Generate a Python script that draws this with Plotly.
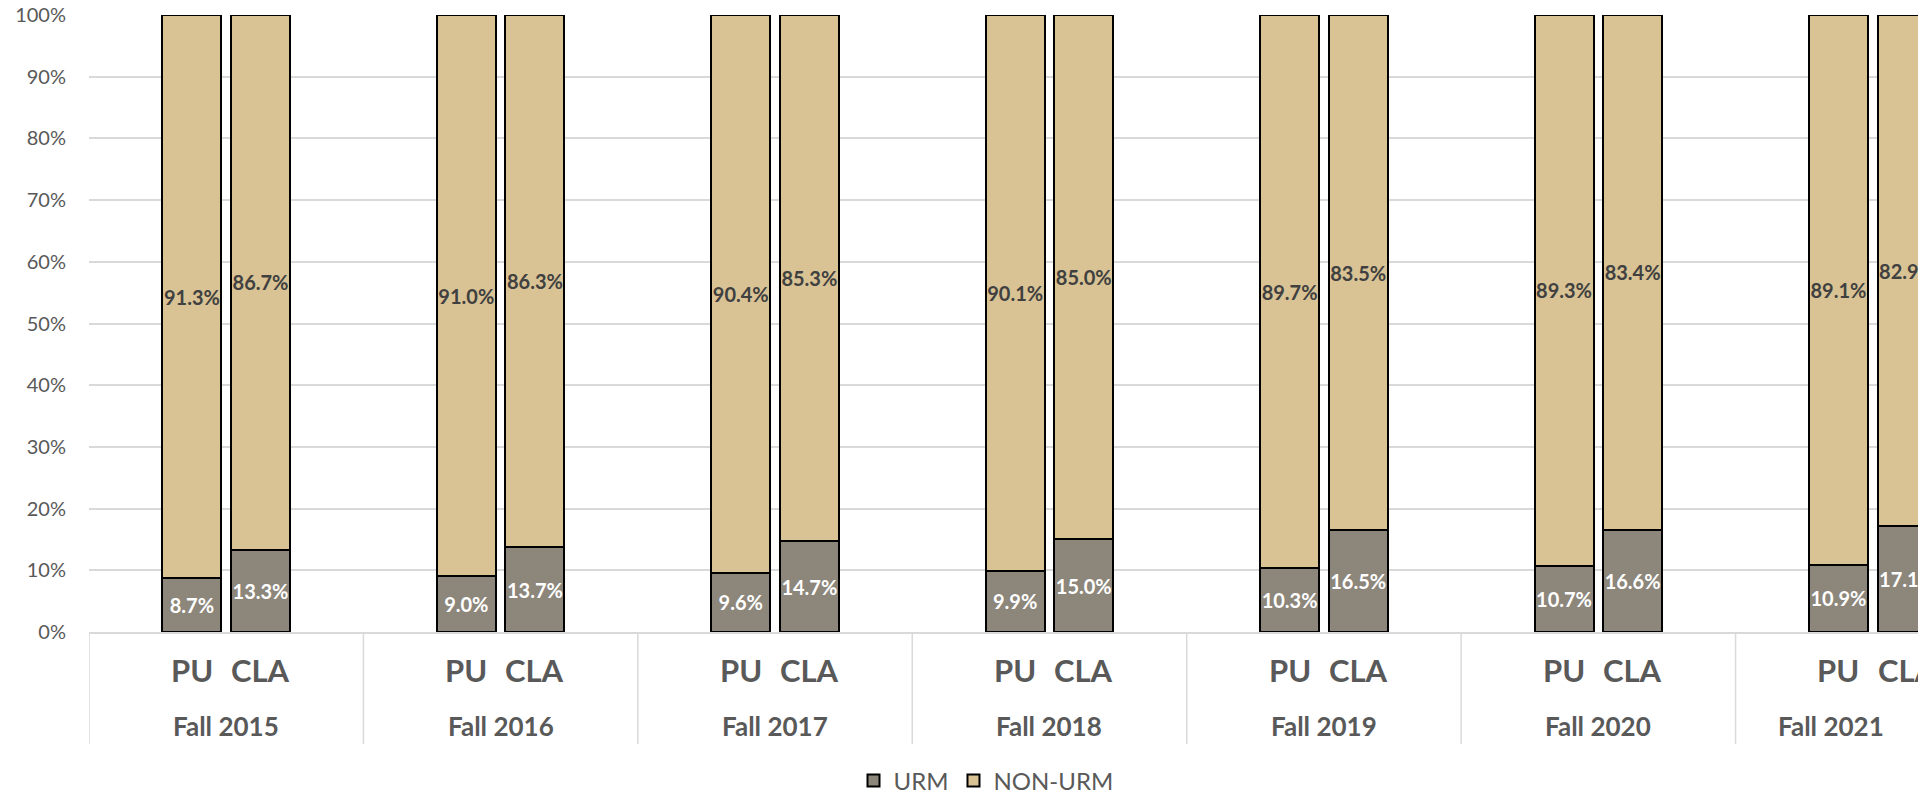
import plotly.graph_objects as go

terms = ["Fall 2015", "Fall 2016", "Fall 2017", "Fall 2018", "Fall 2019", "Fall 2020", "Fall 2021"]
schools = ["PU", "CLA"]

pu_urm = [8.7, 9.0, 9.6, 9.9, 10.3, 10.7, 10.9]
pu_non_urm = [91.3, 91.0, 90.4, 90.1, 89.7, 89.3, 89.1]
cla_urm = [13.3, 13.7, 14.7, 15.0, 16.5, 16.6, 17.1]
cla_non_urm = [86.7, 86.3, 85.3, 85.0, 83.5, 83.4, 82.9]

URM_COLOR = "#8D867B"
NON_URM_COLOR = "#D9C394"
TEXT_GRAY = "#595959"
GRID = "#D9D9D9"
FONT = "Lato"

# the page body adds an 8px margin, so the figure is drawn 8px smaller
W, H = 1918, 786
M_L, M_T, M_B = 81, 7, 162
plot_h = H - M_T - M_B

# each term is one unit wide, PU and CLA sit either side of the centre
offset = 0.125
bar_w = 0.215
x_range = [-0.5, 6.194]
xs, urm, non_urm, school_labels = [], [], [], []
for i in range(len(terms)):
    xs += [i - offset, i + offset]
    urm += [pu_urm[i], cla_urm[i]]
    non_urm += [pu_non_urm[i], cla_non_urm[i]]
    school_labels += schools

fig = go.Figure()
fig.add_trace(go.Bar(
    x=xs, y=urm, name="URM", width=bar_w,
    marker=dict(color=URM_COLOR, line=dict(color="black", width=2)),
    text=[f"{v:.1f}%" for v in urm], textposition="inside", insidetextanchor="middle",
    textangle=0, constraintext="none",
    textfont=dict(family=FONT, size=20, color="white", weight="bold"),
))
fig.add_trace(go.Bar(
    x=xs, y=non_urm, name="NON-URM", width=bar_w,
    marker=dict(color=NON_URM_COLOR, line=dict(color="black", width=2)),
    text=[f"{v:.1f}%" for v in non_urm], textposition="inside", insidetextanchor="middle",
    textangle=0, constraintext="none",
    textfont=dict(family=FONT, size=20, color="#404040", weight="bold"),
))

# group dividers below the axis
for i in range(len(terms) + 1):
    fig.add_shape(type="line", xref="x", yref="paper", x0=i - 0.5, x1=i - 0.5,
                  y0=0, y1=-112 / plot_h, line=dict(color=GRID, width=1.5))
# school labels (first level of the category axis)
for x, s in zip(xs, school_labels):
    fig.add_annotation(x=x, y=-38 / plot_h, xref="x", yref="paper", text=s,
                       showarrow=False, yanchor="middle",
                       font=dict(family=FONT, size=31, color=TEXT_GRAY, weight="bold"))
# term labels, centred on the visible part of each group
for i, t in enumerate(terms):
    lo = max(i - 0.5, x_range[0])
    hi = min(i + 0.5, x_range[1])
    fig.add_annotation(x=(lo + hi) / 2, y=-94 / plot_h, xref="x", yref="paper", text=t,
                       showarrow=False, yanchor="middle",
                       font=dict(family=FONT, size=26, color=TEXT_GRAY, weight="bold"))

fig.update_layout(
    barmode="stack",
    width=W, height=H,
    margin=dict(l=M_L, r=0, t=M_T, b=M_B, autoexpand=False),
    plot_bgcolor="white", paper_bgcolor="white",
    font=dict(family=FONT, color=TEXT_GRAY),
    showlegend=True,
    legend=dict(orientation="h", xref="container", yref="container",
                x=978 / W, xanchor="center", y=1 - 773 / H, yanchor="middle",
                traceorder="normal", font=dict(size=24, color=TEXT_GRAY)),
)
fig.update_xaxes(range=x_range, showticklabels=False,
                 showgrid=False, showline=True, linecolor=GRID, linewidth=1.5, ticks="")
fig.update_yaxes(range=[0, 100], dtick=10, ticksuffix="%", showgrid=True,
                 gridcolor=GRID, gridwidth=1.5, zeroline=False, ticks="",
                 ticklabelstandoff=22, ticklabeloverflow="allow",
                 tickfont=dict(family=FONT, size=20, color=TEXT_GRAY))

fig.write_html("out.html")
